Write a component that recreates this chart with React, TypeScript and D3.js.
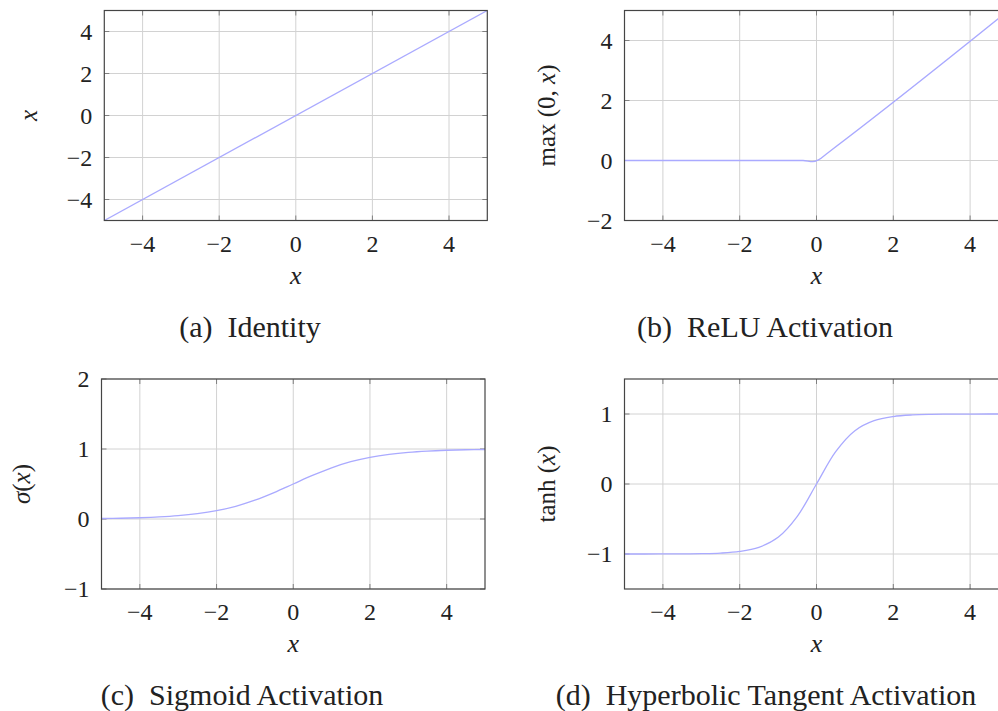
import React from "react";
import * as d3 from "d3";

// ---------- data ----------
const X_TICKS = [-4, -2, 0, 2, 4];
const IDENTITY_Y_TICKS = [-4, -2, 0, 2, 4];
const RELU_Y_TICKS = [-2, 0, 2, 4];
const SIGMOID_Y_TICKS = [-1, 0, 1, 2];
const TANH_Y_TICKS = [-1, 0, 1];

const IDENTITY_X = [-5, 5];
const IDENTITY_Y = [-5, 5];

const RELU_X = [-5, -0.35, -0.1, 0.05, 0.3, 5];
const RELU_Y = [0, 0, -0.04, 0.02, 0.26, 5];

const CURVE_X = [-5, -4.5, -4, -3.5, -3, -2.5, -2, -1.5, -1, -0.5, 0, 0.5, 1, 1.5, 2, 2.5, 3, 3.5, 4, 4.5, 5];
const SIGMOID_Y = [0.007, 0.011, 0.018, 0.029, 0.047, 0.076, 0.119, 0.182, 0.269, 0.378, 0.5, 0.622, 0.731, 0.818, 0.881, 0.924, 0.953, 0.971, 0.982, 0.989, 0.993];
const TANH_Y = [-1.0, -1.0, -0.999, -0.998, -0.995, -0.987, -0.964, -0.905, -0.762, -0.462, 0, 0.462, 0.762, 0.905, 0.964, 0.987, 0.995, 0.998, 0.999, 1.0, 1.0];

const FONT = "'Liberation Serif', 'DejaVu Serif', serif";
const LINE_COLOR = "#aaaaff";

type PanelDef = {
  id: string;
  left: number;
  top: number;
  width: number;
  height: number;
  yDomain: [number, number];
  yTicks: number[];
  xs: number[];
  ys: number[];
  smooth: boolean;
  caption: string;
  captionX: number;
  yLabel: React.ReactNode;
  yLabelOffset: number;
};

const fmt = (v: number) => (v < 0 ? "\u2212" + Math.abs(v) : String(v));

function Panel({ p }: { p: PanelDef }) {
  const x = d3.scaleLinear().domain([-5, 5]).range([p.left, p.left + p.width]);
  const y = d3.scaleLinear().domain(p.yDomain).range([p.top + p.height, p.top]);
  const pts: [number, number][] = p.xs.map((v, i) => [v, p.ys[i]]);
  const line = d3
    .line<[number, number]>()
    .x((d) => x(d[0]))
    .y((d) => y(d[1]))
    .curve(p.smooth ? d3.curveCatmullRom.alpha(0.5) : d3.curveMonotoneX);
  const bottom = p.top + p.height;
  const right = p.left + p.width;
  const tl = 5;
  const tickColor = "#808080";
  const cx = p.left + p.width / 2;
  return (
    <g>
      <defs>
        <clipPath id={"clip-" + p.id}>
          <rect x={p.left} y={p.top} width={p.width} height={p.height} />
        </clipPath>
      </defs>
      {X_TICKS.map((t) => (
        <line key={"gx" + t} x1={x(t)} x2={x(t)} y1={p.top} y2={bottom} stroke="#d2d2d2" strokeWidth={1} />
      ))}
      {p.yTicks.map((t) => (
        <line key={"gy" + t} x1={p.left} x2={right} y1={y(t)} y2={y(t)} stroke="#d2d2d2" strokeWidth={1} />
      ))}
      {X_TICKS.map((t) => (
        <g key={"tx" + t}>
          <line x1={x(t)} x2={x(t)} y1={bottom} y2={bottom - tl} stroke={tickColor} strokeWidth={1} />
          <line x1={x(t)} x2={x(t)} y1={p.top} y2={p.top + tl} stroke={tickColor} strokeWidth={1} />
        </g>
      ))}
      {p.yTicks.map((t) => (
        <g key={"ty" + t}>
          <line x1={p.left} x2={p.left + tl} y1={y(t)} y2={y(t)} stroke={tickColor} strokeWidth={1} />
          <line x1={right} x2={right - tl} y1={y(t)} y2={y(t)} stroke={tickColor} strokeWidth={1} />
        </g>
      ))}
      <path d={line(pts) || ""} fill="none" stroke={LINE_COLOR} strokeWidth={1.3} clipPath={`url(#clip-${p.id})`} />
      <rect x={p.left} y={p.top} width={p.width} height={p.height} fill="none" stroke="#454545" strokeWidth={1.2} />
      {X_TICKS.map((t) => (
        <text key={"lx" + t} x={x(t)} y={bottom + 31} textAnchor="middle" fontSize={24} fontFamily={FONT} fill="#222">
          {fmt(t)}
        </text>
      ))}
      {p.yTicks.map((t) => (
        <text key={"ly" + t} x={p.left - 12} y={y(t) + 8} textAnchor="end" fontSize={24} fontFamily={FONT} fill="#222">
          {fmt(t)}
        </text>
      ))}
      <text x={cx} y={bottom + 63} textAnchor="middle" fontSize={26} fontFamily={FONT} fontStyle="italic" fill="#222">
        x
      </text>
      <text
        transform={`translate(${p.left - p.yLabelOffset},${p.top + p.height / 2}) rotate(-90)`}
        textAnchor="middle"
        fontSize={25}
        fontFamily={FONT}
        fill="#222"
      >
        {p.yLabel}
      </text>
      <text x={p.captionX} y={bottom + 116} textAnchor="middle" fontSize={30} fontFamily={FONT} fill="#222">
        {p.caption}
      </text>
    </g>
  );
}

export default function App() {
  const panels: PanelDef[] = [
    {
      id: "a", left: 104.3, top: 10.5, width: 383, height: 210,
      yDomain: [-5, 5], yTicks: IDENTITY_Y_TICKS, xs: IDENTITY_X, ys: IDENTITY_Y, smooth: false,
      caption: "(a)\u2002Identity", captionX: 250,
      yLabel: <tspan fontStyle="italic">x</tspan>, yLabelOffset: 67,
    },
    {
      id: "b", left: 624.5, top: 10.5, width: 384, height: 210,
      yDomain: [-2, 5], yTicks: RELU_Y_TICKS, xs: RELU_X, ys: RELU_Y, smooth: false,
      caption: "(b)\u2002ReLU Activation", captionX: 765,
      yLabel: (<><tspan>max (0, </tspan><tspan fontStyle="italic">x</tspan><tspan>)</tspan></>),
      yLabelOffset: 70,
    },
    {
      id: "c", left: 101.5, top: 379, width: 383.5, height: 210,
      yDomain: [-1, 2], yTicks: SIGMOID_Y_TICKS, xs: CURVE_X, ys: SIGMOID_Y, smooth: true,
      caption: "(c)\u2002Sigmoid Activation", captionX: 242,
      yLabel: (<><tspan fontStyle="italic">σ</tspan><tspan>(</tspan><tspan fontStyle="italic">x</tspan><tspan>)</tspan></>),
      yLabelOffset: 72,
    },
    {
      id: "d", left: 624.5, top: 379, width: 384, height: 210,
      yDomain: [-1.5, 1.5], yTicks: TANH_Y_TICKS, xs: CURVE_X, ys: TANH_Y, smooth: true,
      caption: "(d)\u2002Hyperbolic Tangent Activation", captionX: 766,
      yLabel: (<><tspan>tanh (</tspan><tspan fontStyle="italic">x</tspan><tspan>)</tspan></>),
      yLabelOffset: 70,
    },
  ];
  return (
    <svg
      width={998}
      height={711}
      style={{ position: "absolute", left: 0, top: 0, background: "#fff" }}
    >
      <rect x={0} y={0} width={998} height={711} fill="#fff" />
      {panels.map((p) => (
        <Panel key={p.id} p={p} />
      ))}
    </svg>
  );
}
